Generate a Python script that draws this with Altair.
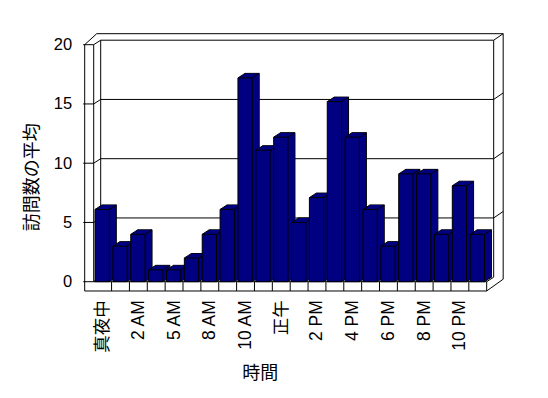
import json
import altair as alt
import pandas as pd

# ---- data ----
hours = ['真夜中', '1 AM', '2 AM', '4 AM', '5 AM', '7 AM', '8 AM', '9 AM', '10 AM', '11 AM',
         '正午', '1 PM', '2 PM', '3 PM', '4 PM', '5 PM', '6 PM', '7 PM', '8 PM', '9 PM',
         '10 PM', '11 PM']
visits = [6.1, 3.0, 4.0, 1.0, 1.0, 2.0, 4.0, 6.1, 17.2, 11.1, 12.2, 5.0, 7.1, 15.2,
          12.2, 6.1, 3.0, 9.1, 9.1, 4.0, 8.1, 4.0]
y_ticks = [0, 5, 10, 15, 20]
x_title = '時間'
y_title = '訪問数の平均'

# ---- layout / style ----
N = len(hours)
YMAX = max(y_ticks)
W, H = 393, 237
DX, DY = 7, -4.5      # depth of the plot box (front plane -> back wall)
WX, WY = 9.5, -6.5    # thickness of the back wall
LW = 9                # thickness of left wall front face
FT = 9.3              # thickness of floor front face
NAVY = '#000080'
FONT = 'Liberation Sans, Noto Sans CJK JP, sans-serif'
CJK = 'Noto Sans CJK JP'

xs = alt.Scale(domain=[0, N], nice=False, zero=False)
ys = alt.Scale(domain=[0, YMAX], nice=False, zero=True)

bars = pd.DataFrame({'hour': hours, 'visits': visits, 'i': list(range(N))})
base = alt.Chart(bars).transform_calculate(x1='datum.i + 0.075', x2='datum.i + 0.875')

label_expr = f"{json.dumps(hours, ensure_ascii=False)}[floor(datum.value)]"
x_label_values = [i + 0.5 for i in range(0, N, 2)]
x_axis = alt.Axis(
    values=x_label_values, tickCount=N, labelExpr=label_expr,
    domain=False, ticks=False, grid=False, labelOverlap=False, labelFlush=False,
    labelAngle=270, labelPadding=18, labelFont=FONT, labelFontSize=17.5,
    labelColor='black', title=x_title, titleFont=CJK, titleFontSize=18,
    titleFontWeight='normal', titleColor='black', titleX=166, titleY=92,
    titleAlign='center', titleBaseline='middle')
y_axis = alt.Axis(
    values=y_ticks, tickCount=len(y_ticks), grid=False, domain=False, ticks=False,
    labelOverlap=False, labelFlush=False,
    labelPadding=22, labelFont=FONT, labelFontSize=16.5, labelColor='black',
    title=y_title, titleFont=CJK, titleFontSize=18, titleFontWeight='normal',
    titleColor='black', titleAngle=270, titleX=-61, titleY=132,
    titleAlign='center', titleBaseline='middle')


def seg(rows, dx1=0, dy1=0, dx2=0, dy2=0, width=1):
    df = pd.DataFrame(rows, columns=['a', 'b', 'c', 'd'])
    return alt.Chart(df).mark_rule(
        color='black', strokeWidth=width,
        xOffset=dx1, yOffset=dy1, x2Offset=dx2, y2Offset=dy2
    ).encode(
        x=alt.X('a:Q', scale=xs),
        y=alt.Y('b:Q', scale=ys),
        x2='c:Q', y2='d:Q'
    )


layers = []
# axis carrier (invisible marks, owns both axes)
layers.append(base.mark_bar(opacity=0).encode(
    x=alt.X('x1:Q', scale=xs, axis=x_axis), x2='x2:Q',
    y=alt.Y('visits:Q', scale=ys, axis=y_axis), y2=alt.datum(0)))
# back wall plane: top edge + gridlines
layers.append(seg([(0, v, N, v) for v in y_ticks if v > 0], DX, DY, DX, DY))
# back wall plane left & right edges
layers.append(seg([(0, 0, 0, YMAX), (N, 0, N, YMAX)], DX, DY, DX, DY))
# left wall diagonals at each tick
layers.append(seg([(0, v, 0, v) for v in y_ticks], 0, 0, DX, DY))
# floor back-right diagonal
layers.append(seg([(N, 0, N, 0)], 0, 0, DX, DY))
# back wall thickness diagonals on the right
layers.append(seg([(N, v, N, v) for v in y_ticks if v > 0], DX, DY, DX + WX, DY + WY))
# outer silhouette
layers.append(seg([(0, YMAX, N, YMAX)], 3, DY + WY, DX + WX, DY + WY))
layers.append(seg([(0, YMAX, 0, YMAX)], -LW, 0, 3, DY + WY))
layers.append(seg([(N, YMAX, N, 0)], DX + WX, DY + WY, DX + WX, -2.5))
layers.append(seg([(N, 0, N, 0)], DX + WX, -2.5, 0, FT))
# left wall outer edge, floor front face
layers.append(seg([(0, YMAX, 0, 0)], -LW, 0, -LW, FT))
layers.append(seg([(0, 0, N, 0)], -LW, FT, 0, FT))
layers.append(seg([(N, 0, N, 0)], 0, 0, 0, FT))
layers.append(seg([(0, 0, N, 0)]))
layers.append(seg([(0, 0, 0, YMAX)]))
# left wall tick marks
layers.append(seg([(0, v, 0, v) for v in y_ticks], -10.5, 0, 0, 0))
# floor dividers at category boundaries
layers.append(seg([(k, 0, k, 0) for k in range(1, N)], 0, 0, 0, FT))

enc = dict(
    x=alt.X('x1:Q', scale=xs), x2='x2:Q',
    y=alt.Y('visits:Q', scale=ys), y2=alt.datum(0),
)

# back faces of the columns
layers.append(base.mark_bar(fill=NAVY, stroke='black', strokeWidth=1,
                            xOffset=DX, x2Offset=DX, yOffset=DY, y2Offset=DY).encode(**enc))
# extrusion fill
k = DX - 0.5
while k > 0:
    layers.append(base.mark_bar(fill=NAVY, xOffset=k, x2Offset=k,
                                yOffset=DY * k / DX, y2Offset=DY * k / DX).encode(**enc))
    k -= 0.5

# column edges receding into depth
edge = dict(color='black', strokeWidth=1, x2Offset=DX, y2Offset=DY)
layers.append(base.mark_rule(**edge).encode(
    x=alt.X('x1:Q', scale=xs), x2='x1:Q',
    y=alt.Y('visits:Q', scale=ys), y2='visits:Q'))
layers.append(base.mark_rule(**edge).encode(
    x=alt.X('x2:Q', scale=xs), x2='x2:Q',
    y=alt.Y('visits:Q', scale=ys), y2='visits:Q'))
layers.append(base.mark_rule(**edge).encode(
    x=alt.X('x2:Q', scale=xs), x2='x2:Q',
    y=alt.YDatum(0, scale=ys, type='quantitative'), y2=alt.datum(0)))

# front faces
layers.append(base.mark_bar(fill=NAVY, stroke='black', strokeWidth=1).encode(**enc))

chart = alt.layer(*layers).properties(
    width=W, height=H,
    padding={'left': 85.7, 'top': 36.7, 'right': 50, 'bottom': 103},
    autosize=alt.AutoSizeParams(type='none'),
    background='white',
).configure_view(stroke=None)

chart.save('out.html', embed_options={'renderer': 'svg', 'actions': False})
